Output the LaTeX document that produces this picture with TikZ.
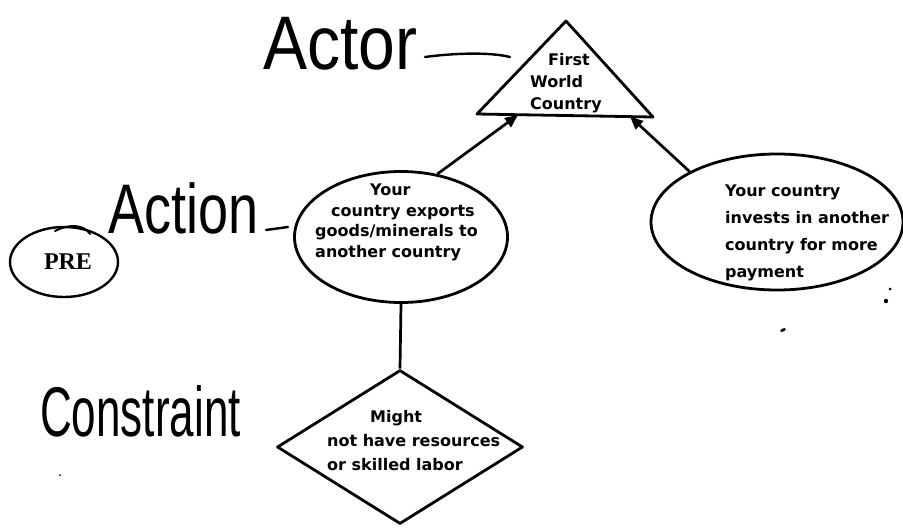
\documentclass[tikz,border=0pt]{standalone}
\usepackage{fontspec}
\newfontfamily\typefont{DejaVu Sans}
\newfontfamily\handfont{Liberation Sans}
\newfontfamily\prefont{Liberation Serif}
\usetikzlibrary{shapes.geometric,arrows.meta}
\begin{document}
\begin{tikzpicture}[x=1pt,y=-1pt,
  shapeline/.style={draw, line width=2.8pt, line join=round},
  oval/.style={shapeline, ellipse, inner sep=0pt},
  labeltext/.style={font=\typefont\bfseries\fontsize{16}{#1}\selectfont, inner sep=0pt},
  labeltext/.default=20,
  hand/.style={font=\handfont\fontsize{#1}{#1}\selectfont, inner sep=0pt},
  handline/.style={line width=2.4pt, line cap=round},
  link/.style={line width=2.7pt},
  arrowlink/.style={link, -{Triangle[length=13pt,width=11pt]}},
  speck/.style={fill=black}
]
\fill[white] (0,0) rectangle (903,528);
\useasboundingbox (0,0) rectangle (903,528);

% Actor: triangle
\draw[shapeline] (566,21) coordinate (apex) -- (653,117) coordinate (br) -- (477,114) coordinate (bl) -- cycle;
\coordinate (t1) at (518,115);
\coordinate (t2) at (630,116.5);
\node[labeltext=22, align=left, anchor=north west] (tritext) at (530,53) {\hspace{18pt}First\\World\\Country};

% Action ellipse
\node[oval, minimum width=213pt, minimum height=131pt] (e1) at (401,237) {};
\node[labeltext=20.5, align=left, anchor=north west] (e1text) at (315,184) {\hspace{55pt}Your\\\hspace{16pt}country exports\\goods/minerals to\\another country};

% Second action ellipse
\node[oval, minimum width=252pt, minimum height=136pt] (e2) at (777,222) {};
\node[labeltext=27, align=left, anchor=north west] (e2text) at (725,185) {Your country\\invests in another\\country for more\\payment};

% Constraint diamond
\node[shapeline, diamond, minimum width=246pt, minimum height=154pt, inner sep=0pt] (dia) at (400,447) {};
\node[labeltext=24, align=left, anchor=north west] (diatext) at (327,410) {\hspace{43pt}Might\\not have resources\\or skilled labor};

% PRE
\node[oval, line width=2.4pt, minimum width=108pt, minimum height=70pt] (pre) at (64,262) {};
\node[font=\prefont\bfseries\fontsize{24}{24}\selectfont, inner sep=0pt] (pretext) at (68,262) {PRE};
\draw[handline, line width=2pt] (55,231) .. controls (68,224) and (84,224) .. (90,234);

% connectors
\draw[link] (e1.south) -- (dia.north);
\draw[arrowlink] (e1.60) -- (t1);
\draw[arrowlink] (e2.150) -- (t2);

% handwritten labels
\node[hand=66, anchor=base west, yscale=1.15] (actor) at (263,69) {Actor};
\draw[handline] (425,57) .. controls (455,53) and (490,52) .. (510,57);
\node[hand=54, anchor=base west, yscale=1.3] (action) at (108,233) {Action};
\draw[handline] (266,230) -- (288,227);
\node[hand=44, anchor=base west, yscale=1.6] (constraint) at (40,436) {Constraint};

% scan specks
\fill[speck] (890,289) circle (1.5);
\fill[speck] (886,301) circle (2.2);
\fill[speck, rotate around={25:(783,330)}] (783,330) ellipse (3 and 1.5);
\fill[speck] (60,475) circle (1);
\end{tikzpicture}
\end{document}
